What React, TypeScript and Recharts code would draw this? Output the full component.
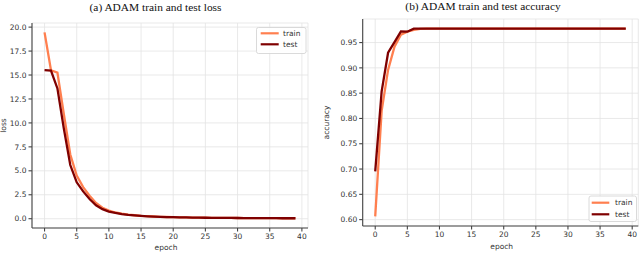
import React from 'react';
import { LineChart, Line, XAxis, YAxis, CartesianGrid } from 'recharts';

const epochs = Array.from({ length: 40 }, (_, i) => i);

const lossTrain = [19.45, 15.5, 15.25, 10.9, 6.7, 4.5, 3.3, 2.4, 1.65, 1.15, 0.85, 0.65, 0.52, 0.43, 0.36, 0.3, 0.26, 0.23, 0.2, 0.18, 0.16, 0.145, 0.13, 0.12, 0.11, 0.1, 0.095, 0.09, 0.085, 0.08, 0.075, 0.07, 0.066, 0.062, 0.058, 0.055, 0.052, 0.05, 0.048, 0.046];
const lossTest = [15.5, 15.45, 13.6, 9.4, 5.6, 3.8, 2.85, 2.05, 1.4, 1.0, 0.75, 0.6, 0.48, 0.4, 0.34, 0.29, 0.25, 0.22, 0.19, 0.17, 0.155, 0.14, 0.13, 0.12, 0.11, 0.1, 0.095, 0.09, 0.085, 0.08, 0.075, 0.07, 0.066, 0.062, 0.058, 0.055, 0.052, 0.05, 0.048, 0.046];

const accTrain = [0.6065, 0.815, 0.896, 0.942, 0.9656, 0.9715, 0.975, 0.977, 0.9775, 0.9775, 0.9775, 0.9775, 0.9775, 0.9775, 0.9775, 0.9775, 0.9775, 0.9775, 0.9775, 0.9775, 0.9775, 0.9775, 0.9775, 0.9775, 0.9775, 0.9775, 0.9775, 0.9775, 0.9775, 0.9775, 0.9775, 0.9775, 0.9775, 0.9775, 0.9775, 0.9775, 0.9775, 0.9775, 0.9775, 0.9775];
const accTest = [0.6955, 0.8536, 0.93, 0.951, 0.972, 0.9715, 0.9775, 0.9775, 0.9775, 0.9775, 0.9775, 0.9775, 0.9775, 0.9775, 0.9775, 0.9775, 0.9775, 0.9775, 0.9775, 0.9775, 0.9775, 0.9775, 0.9775, 0.9775, 0.9775, 0.9775, 0.9775, 0.9775, 0.9775, 0.9775, 0.9775, 0.9775, 0.9775, 0.9775, 0.9775, 0.9775, 0.9775, 0.9775, 0.9775, 0.9775];

const xTicks = [0, 5, 10, 15, 20, 25, 30, 35, 40];
const lossTicks = [0, 2.5, 5, 7.5, 10, 12.5, 15, 17.5, 20];
const accTicks = [0.6, 0.65, 0.7, 0.75, 0.8, 0.85, 0.9, 0.95];

const lossRows = epochs.map((e, i) => ({ epoch: e, train: lossTrain[i], test: lossTest[i] }));
const accRows = epochs.map((e, i) => ({ epoch: e, train: accTrain[i], test: accTest[i] }));

const TRAIN = '#ff7f4f';
const TEST = '#7f0000';
const AXIS = '#444';
const GRID = '#e3e3e3';
const TICKFONT = { fontSize: 7.5, fill: '#333', fontFamily: 'DejaVu Sans' };
const X_DOMAIN: [number, number] = [-1.95, 40.95];

function Panel({ rows, yDomain, yTicks, fmt, width, height, margin, yWidth, xHeight }: any) {
  return (
    <LineChart width={width} height={height} data={rows} margin={margin}>
      <CartesianGrid stroke={GRID} strokeWidth={0.8} />
      <XAxis dataKey="epoch" type="number" domain={X_DOMAIN} ticks={xTicks} allowDataOverflow
        height={xHeight} tickSize={3.5} tickMargin={2} stroke={AXIS} strokeWidth={1.1} tick={TICKFONT} interval={0} />
      <XAxis xAxisId="top" orientation="top" dataKey="epoch" type="number" domain={X_DOMAIN} allowDataOverflow
        height={0} tick={false} tickLine={false} stroke={AXIS} strokeWidth={1.1} />
      <YAxis type="number" domain={yDomain} ticks={yTicks} allowDataOverflow width={yWidth}
        tickSize={3.5} tickMargin={2} stroke={AXIS} strokeWidth={1.1} tick={TICKFONT}
        tickFormatter={fmt} interval={0} />
      <YAxis yAxisId="right" orientation="right" type="number" domain={yDomain} allowDataOverflow
        width={0} tick={false} tickLine={false} stroke={AXIS} strokeWidth={1.1} />
      <Line dataKey="train" stroke={TRAIN} strokeWidth={2.3} dot={false} isAnimationActive={false} />
      <Line dataKey="test" stroke={TEST} strokeWidth={2.3} dot={false} isAnimationActive={false} />
    </LineChart>
  );
}

function LegendBox({ x, y, w, h, lx1, lx2, ly1, ly2, tx }: any) {
  return (
    <g>
      <rect x={x} y={y} width={w} height={h} rx={2} fill="#fff" fillOpacity={0.85} stroke="#d0d0d0" strokeWidth={0.8} />
      <line x1={lx1} x2={lx2} y1={ly1} y2={ly1} stroke={TRAIN} strokeWidth={2.2} />
      <line x1={lx1} x2={lx2} y1={ly2} y2={ly2} stroke={TEST} strokeWidth={2.2} />
      <text x={tx} y={ly1 + 2.7} style={TICKFONT as any} fill="#333">train</text>
      <text x={tx} y={ly2 + 2.7} style={TICKFONT as any} fill="#333">test</text>
    </g>
  );
}

export default function App() {
  const serif = { fontFamily: 'Liberation Serif', fontSize: 11.4, fill: '#111' };
  const sans = { fontFamily: 'DejaVu Sans', fontSize: 7.5, fill: '#333' };
  return (
    <div style={{ position: 'absolute', left: 0, top: 0, width: 640, height: 253, background: '#fff', overflow: 'hidden' }}>
      <div style={{ position: 'absolute', left: 0, top: 0 }}>
        <Panel rows={lossRows} yDomain={[-0.97, 20.43]} yTicks={lossTicks} fmt={(v: number) => v.toFixed(1)}
          width={320} height={253} margin={{ top: 23, right: 12, bottom: 0, left: 0 }} yWidth={32} xHeight={25} />
      </div>
      <div style={{ position: 'absolute', left: 320, top: 0 }}>
        <Panel rows={accRows} yDomain={[0.5874, 0.9966]} yTicks={accTicks} fmt={(v: number) => v.toFixed(2)}
          width={320} height={253} margin={{ top: 19, right: 1.7, bottom: 0, left: 0 }} yWidth={42.7} xHeight={27} />
      </div>
      <svg width={640} height={253} style={{ position: 'absolute', left: 0, top: 0, pointerEvents: 'none' }}>
        <text x={155.5} y={11} textAnchor="middle" style={serif as any}>(a) ADAM train and test loss</text>
        <text x={483} y={10} textAnchor="middle" style={serif as any}>(b) ADAM train and test accuracy</text>
        <text x={166} y={249.5} textAnchor="middle" style={sans as any}>epoch</text>
        <text x={501.7} y={249} textAnchor="middle" style={sans as any}>epoch</text>
        <text x={5.5} y={125.5} textAnchor="middle" transform="rotate(-90 5.5 125.5)" style={sans as any}>loss</text>
        <text x={328.5} y={122.5} textAnchor="middle" transform="rotate(-90 328.5 122.5)" style={sans as any}>accuracy</text>
        <LegendBox x={256.5} y={27.5} w={49.5} h={26} lx1={260.7} lx2={278.7} ly1={33.3} ly2={44.3} tx={283} />
        <LegendBox x={589} y={196} w={47.5} h={25.5} lx1={591.7} lx2={609.3} ly1={202.7} ly2={214.3} tx={615} />
      </svg>
    </div>
  );
}
